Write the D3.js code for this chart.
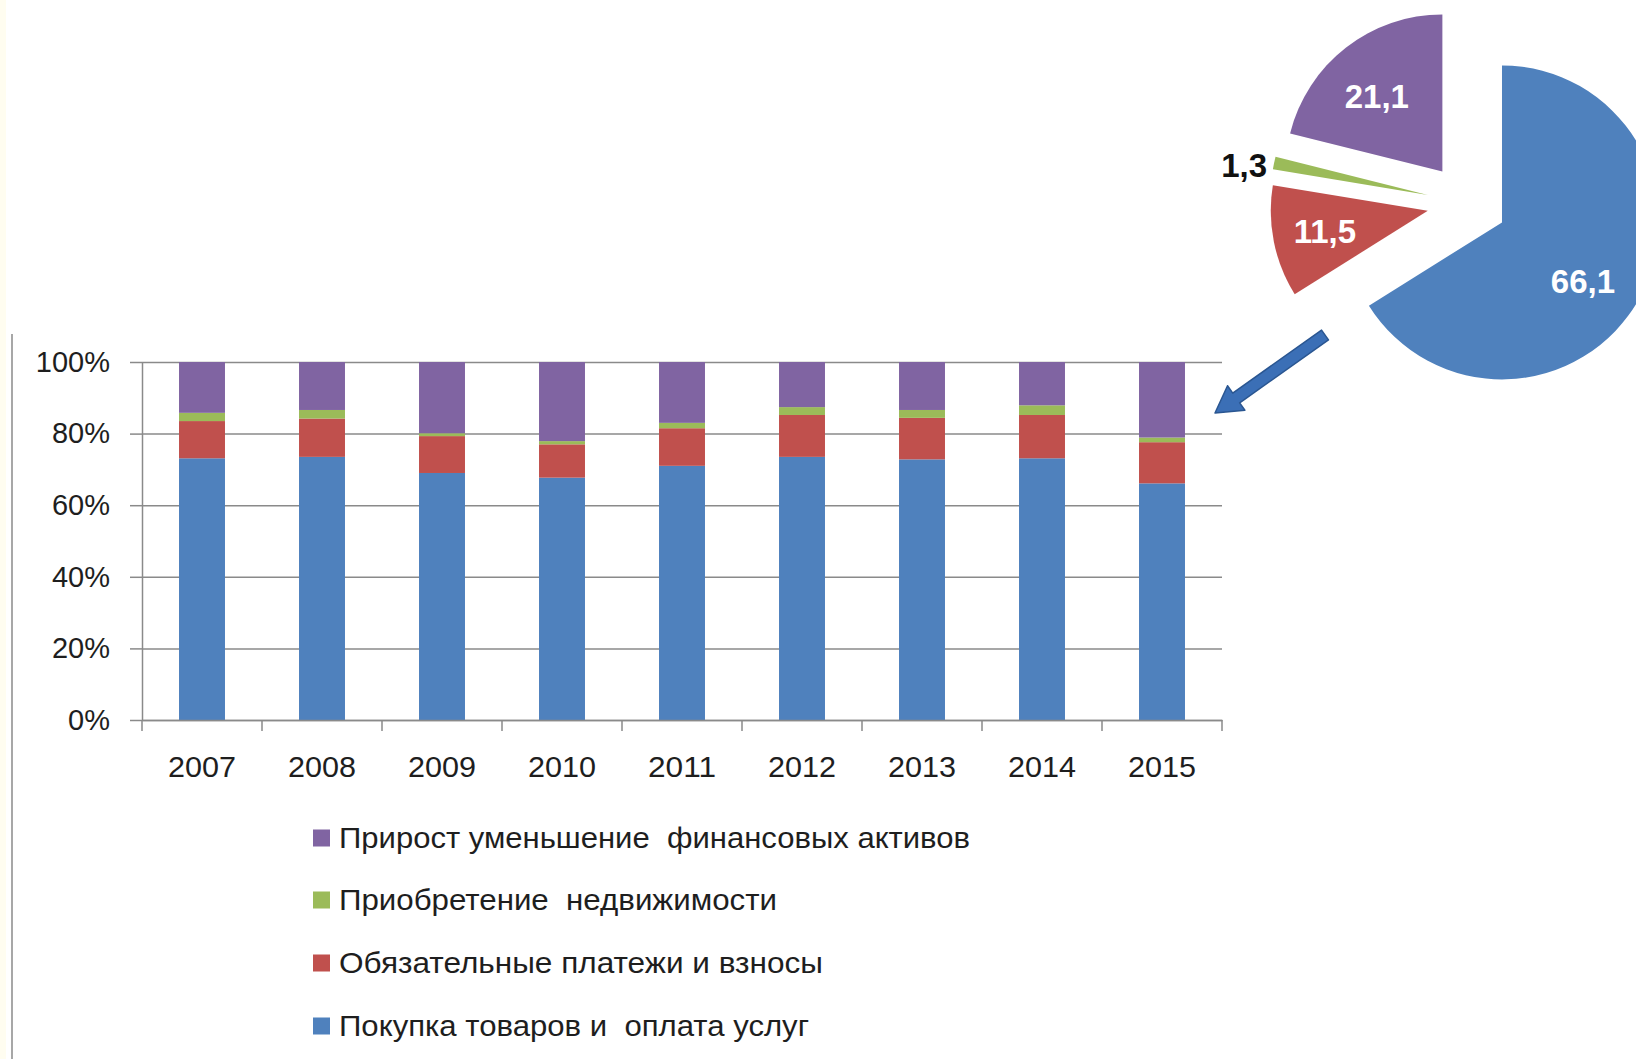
<!DOCTYPE html>
<html>
<head>
<meta charset="utf-8">
<script src="https://cdn.jsdelivr.net/npm/d3@7"></script>
<style>
  html, body { margin: 0; padding: 0; background: #ffffff; }
  svg { display: block; }
  text { font-family: "Liberation Sans", Arial, sans-serif; }
</style>
</head>
<body>
<svg id="chart" width="1636" height="1059"></svg>
<script>
// ---- data ----
const years = ["2007","2008","2009","2010","2011","2012","2013","2014","2015"];
const seriesNames = [
  "Покупка товаров и  оплата услуг",
  "Обязательные платежи и взносы",
  "Приобретение  недвижимости",
  "Прирост уменьшение  финансовых активов"
];
const purchases   = [73.1, 73.5, 69.0, 67.7, 71.0, 73.5, 72.8, 73.1, 66.1];
const payments    = [10.4, 10.7, 10.3,  9.3, 10.5, 11.7, 11.6, 12.1, 11.5];
const realEstate  = [ 2.3,  2.4,  0.8,  0.9,  1.5,  2.2,  2.2,  2.7,  1.3];
const finAssets   = [14.2, 13.4, 19.9, 22.1, 17.0, 12.6, 13.4, 12.1, 21.1];
const yTicks = [0, 0.2, 0.4, 0.6, 0.8, 1.0];
const pieValues = [66.1, 11.5, 1.3, 21.1];
const pieLabels = ["66,1", "11,5", "1,3", "21,1"];
const colors = ["#4f81bd", "#c0504d", "#9bbb59", "#8064a2"];

// ---- setup ----
const svg = d3.select("#chart");
svg.append("rect").attr("width", 1636).attr("height", 1059).attr("fill", "#ffffff");
svg.append("rect").attr("width", 6).attr("height", 1059).attr("fill", "#fffdf0");
svg.append("line").attr("x1", 12).attr("x2", 12).attr("y1", 334).attr("y2", 1059)
  .attr("stroke", "#8a8a8a").attr("stroke-width", 1.5);

const x = d3.scaleBand().domain(years).range([142, 1222]).paddingInner(0.617).paddingOuter(0.3085);
const y = d3.scaleLinear().domain([0, 1]).range([720, 362]);

// stacked data
const rows = years.map((yr, i) => {
  const vals = [purchases[i], payments[i], realEstate[i], finAssets[i]];
  const total = d3.sum(vals);
  const o = { year: yr };
  vals.forEach((v, k) => o["s" + k] = v / total);
  return o;
});
const stack = d3.stack().keys(["s0", "s1", "s2", "s3"]);
const layers = stack(rows);

// gridlines
const gridG = svg.append("g").attr("transform", "translate(142,0)")
  .call(d3.axisLeft(y).tickValues(yTicks).tickSize(-(1222 - 142)).tickFormat(""));
gridG.selectAll("line").attr("stroke", "#8a8a8a").attr("stroke-width", 1.5);
gridG.select(".domain").remove();

// bars
svg.append("g").selectAll("g").data(layers).join("g")
  .attr("fill", (d, i) => colors[i])
  .selectAll("rect").data(d => d).join("rect")
  .attr("x", d => x(d.data.year))
  .attr("width", x.bandwidth())
  .attr("y", d => y(d[1]))
  .attr("height", d => y(d[0]) - y(d[1]));

// y axis
const yAxisG = svg.append("g").attr("transform", "translate(142,0)")
  .call(d3.axisLeft(y).tickValues(yTicks).tickFormat(d3.format(".0%")).tickSize(12).tickSizeOuter(0).tickPadding(20));
yAxisG.select(".domain").attr("stroke", "#8a8a8a").attr("stroke-width", 1.5);
yAxisG.selectAll("line").attr("stroke", "#8a8a8a").attr("stroke-width", 1.5);
yAxisG.selectAll("text").attr("font-size", 29).attr("fill", "#1e1e1e")
  .attr("font-family", "'Liberation Sans', Arial, sans-serif");

// x axis
const xAxisG = svg.append("g").attr("transform", "translate(0,720)")
  .call(d3.axisBottom(x).tickSize(0).tickSizeOuter(0).tickPadding(36));
xAxisG.select(".domain").attr("stroke", "#8a8a8a").attr("stroke-width", 1.5);
xAxisG.selectAll("text").attr("font-size", 29).attr("fill", "#1e1e1e")
  .attr("font-family", "'Liberation Sans', Arial, sans-serif")
  .attr("textLength", 68).attr("lengthAdjust", "spacingAndGlyphs");
const gap = (x.step() - x.bandwidth()) / 2;
const bounds = years.map(d => x(d) - gap).concat([x(years[years.length - 1]) + x.bandwidth() + gap]);
svg.append("g").selectAll("line").data(bounds).join("line")
  .attr("x1", d => d).attr("x2", d => d).attr("y1", 720).attr("y2", 731)
  .attr("stroke", "#8a8a8a").attr("stroke-width", 1.5);

// legend (reverse order, top: financial assets)
const legendOrder = [3, 2, 1, 0];
const legendY = [838, 900, 963, 1026];
const legendW = [631, 438, 484, 470];
const lg = svg.append("g").selectAll("g").data(legendOrder).join("g")
  .attr("transform", (d, i) => `translate(313,${legendY[i]})`);
lg.append("rect").attr("x", 0).attr("y", -8.5).attr("width", 17).attr("height", 17)
  .attr("fill", d => colors[d]);
lg.append("text").attr("x", 26).attr("y", 0).attr("dy", "0.35em")
  .attr("font-size", 29).attr("fill", "#1e1e1e")
  .style("white-space", "pre")
  .attr("textLength", (d, i) => legendW[i]).attr("lengthAdjust", "spacingAndGlyphs")
  .text(d => seriesNames[d]);

// ---- exploded pie ----
const cx = 1467, cy = 203, R = 157, explode = 40;
const pie = d3.pie().sort(null).value(d => d);
const arcs = pie(pieValues);
const arc = d3.arc().innerRadius(0).outerRadius(R);
const pieG = svg.append("g").attr("transform", `translate(${cx},${cy})`);
const mid = a => (a.startAngle + a.endAngle) / 2;
pieG.selectAll("path").data(arcs).join("path")
  .attr("transform", a => `translate(${explode * Math.sin(mid(a))},${-explode * Math.cos(mid(a))})`)
  .attr("d", arc)
  .attr("fill", (a, i) => colors[i]);
const labelR = [100, 105, 186, 100];
const labelNudge = [7, 0, -2.6, -3].map(d => d * Math.PI / 180);
pieG.selectAll("text").data(arcs).join("text")
  .attr("x", (a, i) => explode * Math.sin(mid(a)) + labelR[i] * Math.sin(mid(a) + labelNudge[i]))
  .attr("y", (a, i) => -explode * Math.cos(mid(a)) - labelR[i] * Math.cos(mid(a) + labelNudge[i]))
  .attr("text-anchor", "middle").attr("dy", "0.36em")
  .attr("font-size", 33).attr("font-weight", "bold")
  .attr("fill", (a, i) => i === 2 ? "#111111" : "#ffffff")
  .text((a, i) => pieLabels[i]);

// ---- arrow ----
const tail = [1325, 335], tip = [1215, 413];
const dx = tip[0] - tail[0], dy = tip[1] - tail[1];
const L = Math.hypot(dx, dy), ux = dx / L, uy = dy / L, px = -uy, py = ux;
const sw = 6, hw = 15, hl = 26;
const bx = tip[0] - ux * hl, by = tip[1] - uy * hl;
const pts = [
  [tail[0] + px * sw, tail[1] + py * sw],
  [bx + px * sw, by + py * sw],
  [bx + px * hw, by + py * hw],
  tip,
  [bx - px * hw, by - py * hw],
  [bx - px * sw, by - py * sw],
  [tail[0] - px * sw, tail[1] - py * sw]
];
svg.append("path").attr("d", d3.line()(pts) + "Z")
  .attr("fill", "#3b6fb6").attr("stroke", "#2a5691").attr("stroke-width", 1.5)
  .attr("stroke-linejoin", "round");
</script>
</body>
</html>
